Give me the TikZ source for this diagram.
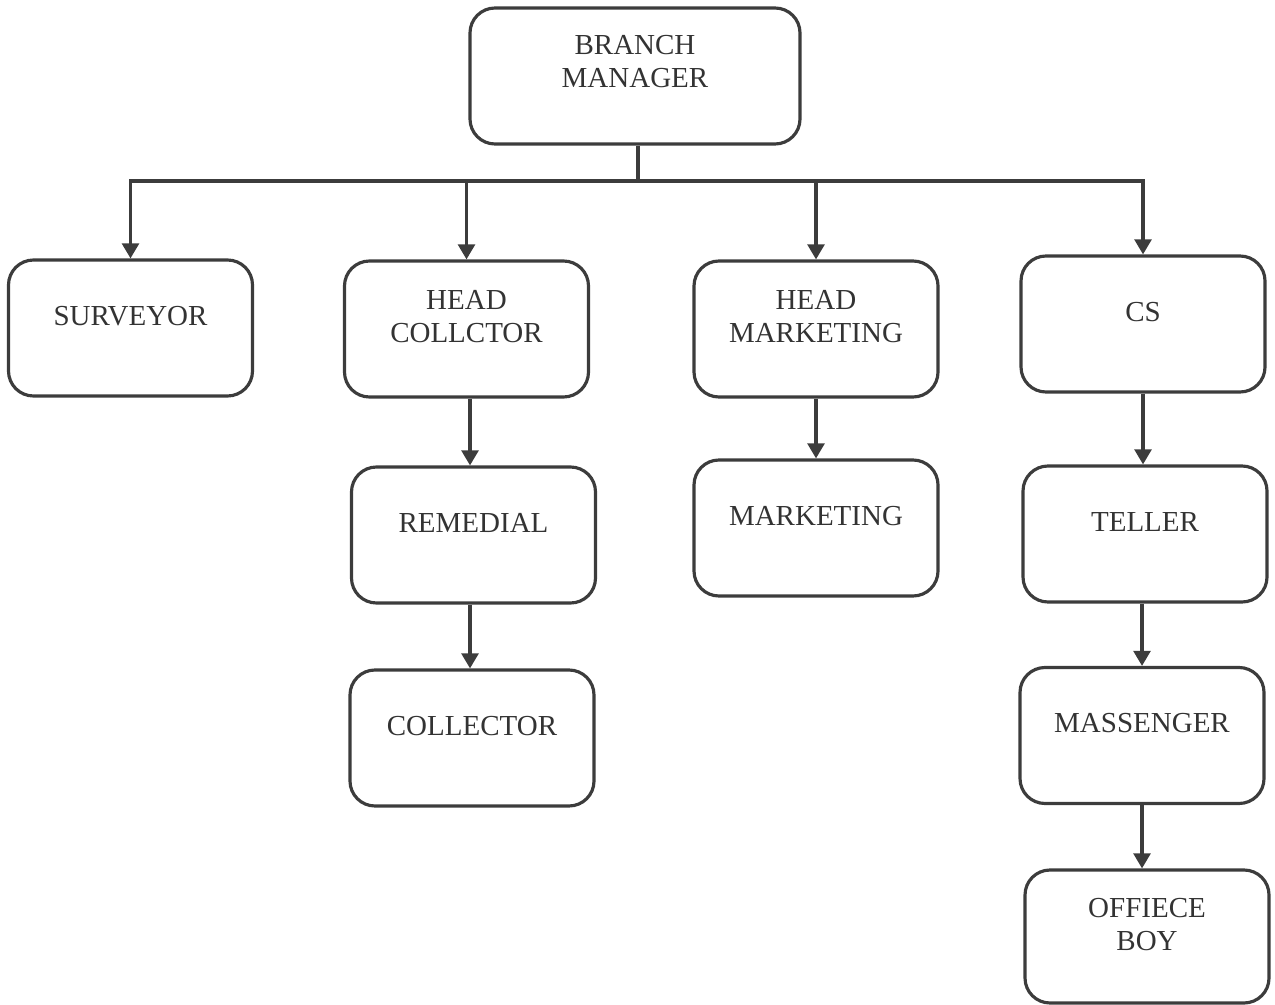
\documentclass[tikz,border=0pt]{standalone}
\usepackage{fontspec}
\setmainfont{Liberation Serif}
\usetikzlibrary{arrows.meta}
\definecolor{linegray}{HTML}{3C3C3C}
\definecolor{textgray}{HTML}{333333}
\begin{document}
\begin{tikzpicture}[
    box/.style = {draw = linegray, line width = 1.8pt, rounded corners = 0.5cm,
      minimum width = 4.88cm, minimum height = 2.72cm, align = center,
      text = textgray, text depth = 14pt,
      font = \fontsize{16.5}{18.7}\selectfont},
    link/.style = {draw = linegray, line width = 1.8pt,
      -{Triangle[width = 9.5pt, length = 8.5pt]}}
  ]
    \useasboundingbox (0,0) rectangle (25.5,-20.1);
    \node[box, minimum width = 6.6cm, text depth = 17pt] (bm) at (12.7,-1.52) {BRANCH\\MANAGER};
    \node[box] (sv) at (2.61,-6.56) {SURVEYOR};
    \node[box] (hc) at (9.33,-6.58) {HEAD\\COLLCTOR};
    \node[box] (hm) at (16.32,-6.58) {HEAD\\MARKETING};
    \node[box] (cs) at (22.86,-6.48) {CS};
    \node[box] (rem) at (9.47,-10.7) {REMEDIAL};
    \node[box] (mkt) at (16.32,-10.56) {MARKETING};
    \node[box] (col) at (9.44,-14.76) {COLLECTOR};
    \node[box] (tel) at (22.9,-10.68) {TELLER};
    \node[box] (msg) at (22.84,-14.71) {MASSENGER};
    \node[box, minimum height = 2.66cm] (ob) at (22.94,-18.73) {OFFIECE\\BOY};
    \coordinate (bus) at (12.76,-3.62);
    \coordinate (colx) at (9.4,0);
    \draw[draw = linegray, line width = 1.8pt] (bm.south -| bus) -- (bus);
    \draw[link] (bus) -| (sv.north);
    \draw[link] (bus) -| (hc.north);
    \draw[link] (bus) -| (hm.north);
    \draw[link] (bus) -| (cs.north);
    \draw[link] (hc.south -| colx) -- (rem.north -| colx);
    \draw[link] (rem.south -| colx) -- (col.north -| colx);
    \draw[link] (hm) -- (mkt);
    \draw[link] (cs.south) -- (tel.north -| cs.south);
    \draw[link] (tel.south -| msg.north) -- (msg.north);
    \draw[link] (msg.south) -- (ob.north -| msg.south);
  \end{tikzpicture}
\end{document}
